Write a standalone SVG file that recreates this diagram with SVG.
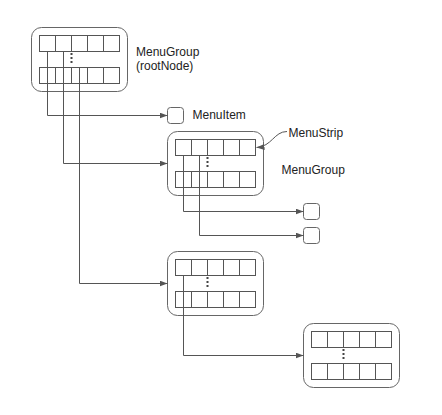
<svg xmlns="http://www.w3.org/2000/svg" width="442" height="415" viewBox="0 0 442 415">
<defs>
<style>
.frame{fill:#fff;stroke:#666;stroke-width:1}
.cell{fill:#fff;stroke:#555;stroke-width:1}
.item{fill:#fff;stroke:#666;stroke-width:1}
.dots{stroke:#444;stroke-width:2;stroke-dasharray:2 2;fill:none}
.conn{fill:none;stroke:#555;stroke-width:1}
.lbl{font-family:"Liberation Sans",Arial,sans-serif;font-size:12px;fill:#222}
</style>
<marker id="arr" viewBox="0 0 8 6" refX="8" refY="3" markerWidth="8" markerHeight="6" markerUnits="userSpaceOnUse" orient="auto">
<path d="M0,0 L8,3 L0,6 z" fill="#555"/>
</marker>
<g id="strip">
<rect class="cell" x="0" y="0" width="16" height="16"/>
<rect class="cell" x="16" y="0" width="16" height="16"/>
<rect class="cell" x="32" y="0" width="16" height="16"/>
<rect class="cell" x="48" y="0" width="16" height="16"/>
<rect class="cell" x="64" y="0" width="16" height="16"/>
</g>
<g id="grp">
<rect class="frame" x="0" y="0" width="96" height="64" rx="10" ry="10"/>
<use href="#strip" x="8" y="8"/>
<use href="#strip" x="8" y="40"/>
<line class="dots" x1="40" y1="25.5" x2="40" y2="36"/>
</g>
</defs>
<rect width="442" height="415" fill="#fff"/>

<g id="root">
<use href="#grp" x="31.5" y="27.5"/>
<text class="lbl" x="136" y="55.5">MenuGroup</text>
<text class="lbl" x="136" y="69.5">(rootNode)</text>
</g>

<g id="menuitem">
<rect class="item" x="167.5" y="107.5" width="16" height="16" rx="3"/>
<text class="lbl" x="192.5" y="119">MenuItem</text>
</g>

<g id="group2">
<use href="#grp" x="167.5" y="131.5"/>
<text class="lbl" x="281.5" y="174.3">MenuGroup</text>
</g>

<g id="menustrip">
<text class="lbl" x="288.5" y="136.5">MenuStrip</text>
</g>

<g id="item2a">
<rect class="item" x="303.5" y="203.5" width="16" height="16" rx="3"/>
</g>
<g id="item2b">
<rect class="item" x="303.5" y="227.5" width="16" height="16" rx="3"/>
</g>

<g id="group3">
<use href="#grp" x="167.5" y="251.5"/>
</g>

<g id="group4">
<use href="#grp" x="303.5" y="323.5"/>
</g>

<g id="connectors">
<path class="conn" d="M47.5,51.5 V115.5 H167.5" marker-end="url(#arr)"/>
<path class="conn" d="M63.5,51.5 V163.5 H167.5" marker-end="url(#arr)"/>
<path class="conn" d="M79.5,67.5 V283.5 H167.5" marker-end="url(#arr)"/>
<path class="conn" d="M183.5,155.5 V211.5 H303.5" marker-end="url(#arr)"/>
<path class="conn" d="M199.5,155.5 V235.5 H303.5" marker-end="url(#arr)"/>
<path class="conn" d="M183.5,275.5 V355.5 H303.5" marker-end="url(#arr)"/>
<path class="conn" d="M287,131.5 C274,131.5 272,146.5 256.5,147.5" marker-end="url(#arr)"/>
</g>
</svg>
